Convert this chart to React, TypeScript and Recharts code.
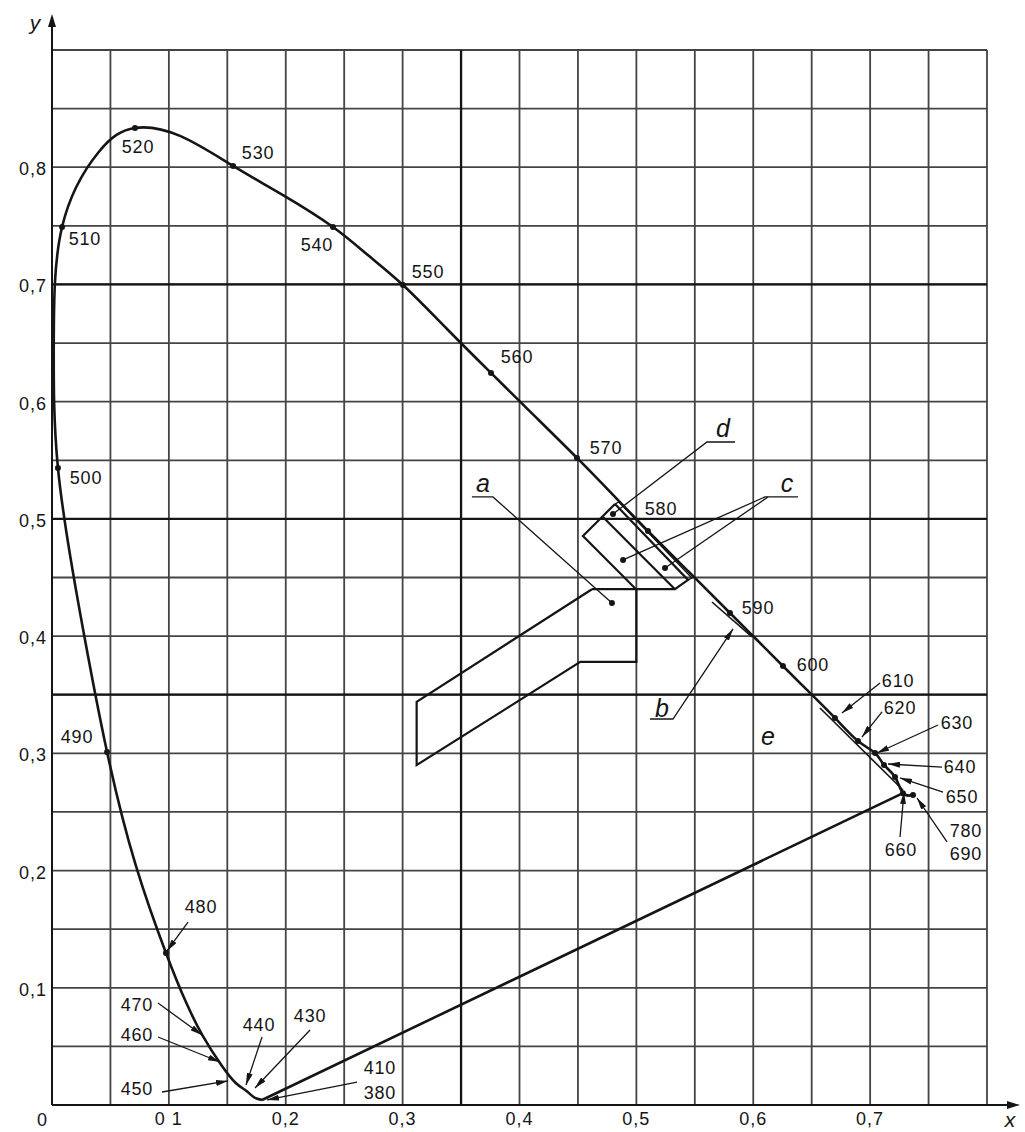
import React from 'react';
import { ComposedChart, XAxis, YAxis, CartesianGrid, Line, Scatter, ReferenceLine } from 'recharts';

// ---- Spectrum locus ----
const locusWl = [380, 420, 430, 440, 450, 460, 470, 475, 480, 485, 490, 495, 500, 505, 510, 515, 520, 525, 530, 535, 540, 545, 550, 555, 560, 565, 570, 575, 580, 585, 590, 595, 600, 605, 610, 620, 630, 640, 650, 660, 690];
const locusX = [0.1797, 0.1750, 0.1710, 0.1650, 0.1570, 0.1450, 0.1290, 0.1145, 0.0975, 0.0715, 0.0471, 0.0240, 0.0051, 0.0015, 0.0086, 0.0400, 0.0710, 0.1100, 0.1549, 0.1980, 0.2404, 0.2708, 0.3003, 0.3380, 0.3756, 0.4124, 0.4492, 0.4796, 0.5099, 0.5450, 0.5801, 0.6028, 0.6254, 0.6477, 0.6699, 0.6896, 0.7042, 0.7119, 0.7213, 0.7281, 0.7367];
const locusY = [0.0043, 0.0055, 0.0080, 0.0130, 0.0190, 0.0340, 0.0590, 0.0880, 0.1297, 0.2050, 0.3012, 0.4200, 0.5434, 0.6500, 0.7490, 0.8130, 0.8335, 0.8265, 0.8011, 0.7760, 0.7490, 0.7246, 0.6995, 0.6620, 0.6245, 0.5883, 0.5520, 0.5209, 0.4897, 0.4547, 0.4197, 0.3971, 0.3745, 0.3524, 0.3302, 0.3105, 0.3003, 0.2901, 0.2798, 0.2660, 0.2645];
const markedWl = [480, 490, 500, 510, 520, 530, 540, 550, 560, 570, 580, 590, 600, 610, 620, 630, 640, 650, 660, 690];
const purpleEndWl = 660;

// ---- Wavelength labels ----
const wlText = ['520', '530', '540', '510', '550', '560', '570', '580', '590', '600', '500', '490', '480', '470', '460', '450', '440', '430', '410', '380', '610', '620', '630', '640', '650', '780', '690', '660'];
const wlTextX = [0.0736, 0.1763, 0.2267, 0.0282, 0.3217, 0.3979, 0.4740, 0.5211, 0.6041, 0.6511, 0.0291, 0.0214, 0.1275, 0.0727, 0.0727, 0.0727, 0.1771, 0.2208, 0.2806, 0.2806, 0.7239, 0.7256, 0.7743, 0.7769, 0.7786, 0.7820, 0.7820, 0.7264];
const wlTextY = [0.8173, 0.8122, 0.7337, 0.7388, 0.7106, 0.6381, 0.5605, 0.5085, 0.4240, 0.3754, 0.5349, 0.3139, 0.1689, 0.0853, 0.0597, 0.0136, 0.0682, 0.0759, 0.0316, 0.0102, 0.3617, 0.3387, 0.3259, 0.2883, 0.2628, 0.2338, 0.2141, 0.2175];

// ---- Arrows from labels to locus ----
const arrowFromX = [0.1164, 0.0907, 0.0907, 0.0941, 0.1797, 0.2208, 0.2610, 0.7085, 0.7102, 0.7581, 0.7615, 0.7624, 0.7256, 0.7658];
const arrowFromY = [0.1561, 0.0870, 0.0580, 0.0111, 0.0580, 0.0640, 0.0196, 0.3600, 0.3353, 0.3242, 0.2883, 0.2670, 0.2286, 0.2244];
const arrowToX = [0.0984, 0.1283, 0.1437, 0.1506, 0.1660, 0.1737, 0.1840, 0.6759, 0.6930, 0.7059, 0.7153, 0.7256, 0.7290, 0.7401];
const arrowToY = [0.1314, 0.0597, 0.0367, 0.0205, 0.0171, 0.0145, 0.0043, 0.3344, 0.3139, 0.3003, 0.2909, 0.2790, 0.2670, 0.2619];

// ---- Colour regions ----
const regionAX = [0.462, 0.312, 0.312, 0.452, 0.500, 0.500, 0.462];
const regionAY = [0.440, 0.344, 0.290, 0.378, 0.378, 0.440, 0.440];
const regionCX = [0.4817, 0.4543, 0.4997, 0.5330, 0.5442, 0.4817];
const regionCY = [0.5127, 0.4854, 0.4400, 0.4400, 0.4479, 0.5127];
const innerCX = [0.4714, 0.5330];
const innerCY = [0.5016, 0.4400];
const stripDX = [0.4817, 0.4850, 0.5475, 0.5442];
const stripDY = [0.5127, 0.5145, 0.4495, 0.4479];
const stripBX = [0.5647, 0.5989];
const stripBY = [0.4291, 0.3993];
const stripRX = [0.6571, 0.7281];
const stripRY = [0.3387, 0.2687];

// ---- Letter annotations ----
const letterText = ['a', 'b', 'c', 'd', 'e'];
const letterX = [0.3688, 0.5219, 0.6289, 0.5741, 0.6126];
const letterY = [0.5230, 0.3310, 0.5230, 0.5699, 0.3071];
const regionDotX = [0.4791, 0.4886, 0.5245, 0.4800];
const regionDotY = [0.4282, 0.4650, 0.4581, 0.5042];
const leaderAX = [0.3593, 0.3773, 0.4791];
const leaderAY = [0.5187, 0.5187, 0.4282];
const leaderBX = [0.5117, 0.5313, 0.5827];
const leaderBY = [0.3293, 0.3293, 0.4061];
const leaderC1X = [0.6383, 0.6100, 0.4886];
const leaderC1Y = [0.5187, 0.5187, 0.4650];
const leaderC2X = [0.6126, 0.5245];
const leaderC2Y = [0.5187, 0.4581];
const leaderDX = [0.5844, 0.5604, 0.4800];
const leaderDY = [0.5656, 0.5656, 0.5042];

// ---- Axes ----
const xTicks = [0, 0.05, 0.1, 0.15, 0.2, 0.25, 0.3, 0.35, 0.4, 0.45, 0.5, 0.55, 0.6, 0.65, 0.7, 0.75, 0.8];
const yTicks = [0, 0.05, 0.1, 0.15, 0.2, 0.25, 0.3, 0.35, 0.4, 0.45, 0.5, 0.55, 0.6, 0.65, 0.7, 0.75, 0.8, 0.85, 0.9];
const xLabeled = [0.1, 0.2, 0.3, 0.4, 0.5, 0.6, 0.7];
const xLabelText = ['0 1', '0,2', '0,3', '0,4', '0,5', '0,6', '0,7'];
const yLabeled = [0.1, 0.2, 0.3, 0.4, 0.5, 0.6, 0.7, 0.8];
const yLabelText = ['0,1', '0,2', '0,3', '0,4', '0,5', '0,6', '0,7', '0,8'];
const originLabel = '0';
const xAxisName = 'x';
const yAxisName = 'y';
const boldY = [0.35, 0.5, 0.7];
const boldX = [0.35];

const FONT = "'Liberation Sans', Arial, Helvetica, sans-serif";
const INK = '#151515';

const zip = (xs: number[], ys: number[]) => xs.map((x, i) => ({ x, y: ys[i] }));
const locusData = locusWl.map((w, i) => ({ w, x: locusX[i], y: locusY[i] }));
const markedData = locusData.filter((d) => markedWl.includes(d.w));
const purpleData = [locusData[0], locusData.find((d) => d.w === purpleEndWl)!];
const wlLabelData = wlText.map((t, i) => ({ t, x: wlTextX[i], y: wlTextY[i] }));
const letterData = letterText.map((t, i) => ({ t, x: letterX[i], y: letterY[i] }));
const regionDots = zip(regionDotX, regionDotY);

const near = (a: number, b: number) => Math.abs(a - b) < 1e-6;

function XTick(props: any) {
  const { x, y, payload } = props;
  const v = payload.value;
  if (near(v, 0)) {
    return (
      <text x={x - 10} y={y + 15} textAnchor="middle" dominantBaseline="central" fontFamily={FONT} fontSize={18} fill={INK}>{originLabel}</text>
    );
  }
  if (near(v, 0.8)) {
    return (
      <g>
        <line x1={x} y1={y} x2={x + 24} y2={y} stroke={INK} strokeWidth={2} />
        <path d={`M${x + 33},${y} L${x + 20},${y - 4} L${x + 20},${y + 4} Z`} fill={INK} />
        <text x={x + 23} y={y + 14} textAnchor="middle" dominantBaseline="central" fontFamily={FONT} fontStyle="italic" fontSize={21} fill={INK}>{xAxisName}</text>
      </g>
    );
  }
  const i = xLabeled.findIndex((t) => near(t, v));
  if (i < 0) return <g />;
  return (
    <text x={x} y={y + 14} textAnchor="middle" dominantBaseline="central" fontFamily={FONT} fontSize={18} letterSpacing={1} fill={INK}>{xLabelText[i]}</text>
  );
}

function YTick(props: any) {
  const { x, y, payload } = props;
  const v = payload.value;
  if (near(v, 0.9)) {
    return (
      <g>
        <line x1={x} y1={y} x2={x} y2={y - 26} stroke={INK} strokeWidth={2} />
        <path d={`M${x},${y - 36} L${x - 4},${y - 23} L${x + 4},${y - 23} Z`} fill={INK} />
        <text x={x - 17} y={y - 28} textAnchor="middle" dominantBaseline="central" fontFamily={FONT} fontStyle="italic" fontSize={21} fill={INK}>{yAxisName}</text>
      </g>
    );
  }
  const i = yLabeled.findIndex((t) => near(t, v));
  if (i < 0) return <g />;
  return (
    <text x={x - 5} y={y + 2} textAnchor="end" dominantBaseline="central" fontFamily={FONT} fontSize={18} letterSpacing={1} fill={INK}>{yLabelText[i]}</text>
  );
}

const numShape = (props: any) => (
  <text x={props.cx} y={props.cy} textAnchor="middle" dominantBaseline="central" fontFamily={FONT} fontSize={18} letterSpacing={0.8} fill={INK}>{props.payload.t}</text>
);
const letterShape = (props: any) => (
  <text x={props.cx} y={props.cy} textAnchor="middle" fontFamily={FONT} fontStyle="italic" fontSize={25} fill={INK}>{props.payload.t}</text>
);
const dotShape = (props: any) => <circle cx={props.cx} cy={props.cy} r={3} fill={INK} />;

const lineProps = { dataKey: 'y', type: 'linear' as const, dot: false, activeDot: false, isAnimationActive: false, legendType: 'none' as const };

export default function App() {
  return (
    <div style={{ position: 'absolute', left: 0, top: 0, width: 1025, height: 1132, background: '#fff' }}>
      <ComposedChart width={1025} height={1132} margin={{ top: 50, right: 38, bottom: 0, left: 0 }}>
        <defs>
          <marker id="arrowHead" viewBox="0 0 12 6" refX="12" refY="3" markerWidth="12" markerHeight="6" markerUnits="userSpaceOnUse" orient="auto">
            <path d="M0,0 L12,3 L0,6 Z" fill={INK} />
          </marker>
        </defs>
        <CartesianGrid stroke="#444" strokeWidth={1.8} />
        <XAxis type="number" dataKey="x" domain={[0, 0.8]} ticks={xTicks} interval={0} allowDataOverflow height={27}
          tickSize={0} tickMargin={0} tickLine={false} axisLine={{ stroke: INK, strokeWidth: 2 }} tick={(p: any) => <XTick {...p} />} />
        <YAxis type="number" dataKey="y" domain={[0, 0.9]} ticks={yTicks} interval={0} allowDataOverflow width={52}
          tickSize={0} tickMargin={0} tickLine={false} axisLine={{ stroke: INK, strokeWidth: 2 }} tick={(p: any) => <YTick {...p} />} />
        {boldY.map((v) => <ReferenceLine key={'by' + v} y={v} stroke={INK} strokeWidth={2.3} />)}
        {boldX.map((v) => <ReferenceLine key={'bx' + v} x={v} stroke={INK} strokeWidth={2.3} />)}

        <Line {...lineProps} data={locusData} type="natural" stroke={INK} strokeWidth={2.6} />
        <Line {...lineProps} data={purpleData} stroke={INK} strokeWidth={2.6} />

        <Line {...lineProps} data={zip(regionAX, regionAY)} stroke={INK} strokeWidth={2.2} />
        <Line {...lineProps} data={zip(regionCX, regionCY)} stroke={INK} strokeWidth={2.2} />
        <Line {...lineProps} data={zip(innerCX, innerCY)} stroke={INK} strokeWidth={2.2} />
        <Line {...lineProps} data={zip(stripDX, stripDY)} stroke={INK} strokeWidth={1.4} />
        <Line {...lineProps} data={zip(stripBX, stripBY)} stroke={INK} strokeWidth={1.6} />
        <Line {...lineProps} data={zip(stripRX, stripRY)} stroke={INK} strokeWidth={1.6} />

        <Line {...lineProps} data={zip(leaderAX, leaderAY)} stroke={INK} strokeWidth={1.3} />
        <Line {...lineProps} data={zip(leaderBX, leaderBY)} stroke={INK} strokeWidth={1.3} markerEnd="url(#arrowHead)" />
        <Line {...lineProps} data={zip(leaderC1X, leaderC1Y)} stroke={INK} strokeWidth={1.3} />
        <Line {...lineProps} data={zip(leaderC2X, leaderC2Y)} stroke={INK} strokeWidth={1.3} />
        <Line {...lineProps} data={zip(leaderDX, leaderDY)} stroke={INK} strokeWidth={1.3} />

        {arrowFromX.map((_, i) => (
          <Line key={'ar' + i} {...lineProps}
            data={[{ x: arrowFromX[i], y: arrowFromY[i] }, { x: arrowToX[i], y: arrowToY[i] }]}
            stroke={INK} strokeWidth={1.3} markerEnd="url(#arrowHead)" />
        ))}

        <Scatter data={markedData} dataKey="y" shape={dotShape} isAnimationActive={false} legendType="none" />
        <Scatter data={regionDots} dataKey="y" shape={dotShape} isAnimationActive={false} legendType="none" />
        <Scatter data={wlLabelData} dataKey="y" shape={numShape} isAnimationActive={false} legendType="none" />
        <Scatter data={letterData} dataKey="y" shape={letterShape} isAnimationActive={false} legendType="none" />
      </ComposedChart>
    </div>
  );
}
